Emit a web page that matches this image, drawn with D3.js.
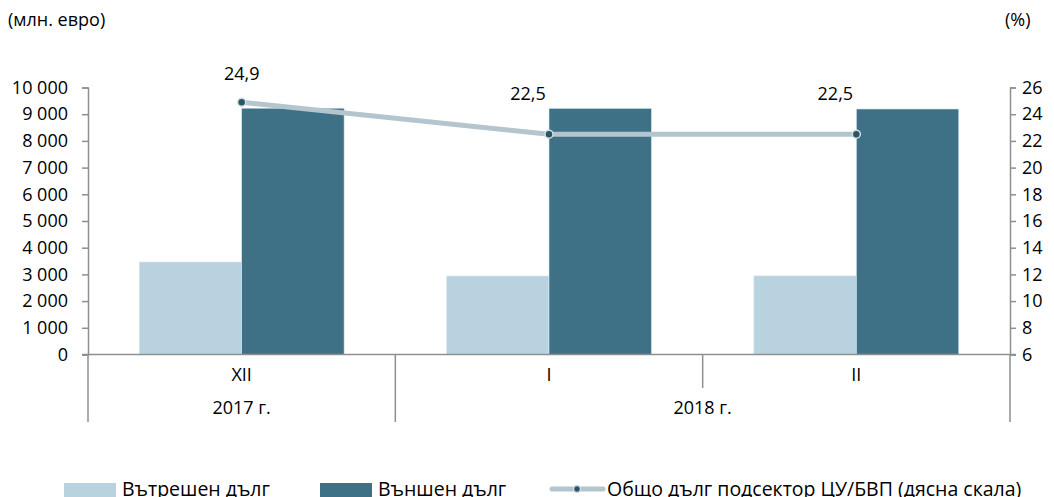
<!DOCTYPE html>
<html>
<head>
<meta charset="utf-8">
<script src="https://cdn.jsdelivr.net/npm/d3@7"></script>
<style>
  body { margin: 0; background: #fff; }
  svg { font-family: "Open Sans", sans-serif; font-size: 18px; }
  text { fill: #000; }
</style>
</head>
<body>
<svg class="chart"></svg>
<script>
var width = 1054,
    height = 497;

// data
var months = ["XII", "I", "II"];
var years = [{ label: "2017 г.", from: 0, to: 1 }, { label: "2018 г.", from: 1, to: 3 }];
var domestic = [3465, 2940, 2945];   // Вътрешен дълг
var external = [9225, 9220, 9195];   // Външен дълг
var ratio = [24.9, 22.5, 22.5];      // % of GDP, right scale
var ratioLabels = ["24,9", "22,5", "22,5"];
var leftTicks = [0, 1000, 2000, 3000, 4000, 5000, 6000, 7000, 8000, 9000, 10000];
var rightTicks = [6, 8, 10, 12, 14, 16, 18, 20, 22, 24, 26];
var seriesNames = ["Вътрешен  дълг", "Външен дълг", "Общо дълг подсектор ЦУ/БВП (дясна скала)"];

var plotLeft = 88, plotRight = 1010, plotTop = 87.5, plotBottom = 354.5;
var axisColor = "#8f8f8f";
var lightBlue = "#b8d3df", darkBlue = "#3e7086", lineColor = "#b4c5cd", dotColor = "#2b5467";

var svg = d3.select(".chart")
    .attr("width", width)
    .attr("height", height);

var x0 = d3.scaleBand().domain(d3.range(months.length)).range([plotLeft, plotRight]);
var x1 = d3.scaleBand().domain([0, 1]).range([0, x0.bandwidth()]).paddingOuter(0.5);
var y = d3.scaleLinear().domain([0, 10000]).range([plotBottom, plotTop]);
var y2 = d3.scaleLinear().domain([6, 26]).range([plotBottom, plotTop]);

var fmt = function(d) { return d3.format(",")(d).replace(/,/g, " "); };

// bars
var groups = svg.append("g").selectAll("g")
    .data(months)
  .enter().append("g")
    .attr("transform", function(d, i) { return "translate(" + x0(i) + ",0)"; });

groups.append("rect")
    .attr("x", x1(0))
    .attr("y", function(d, i) { return y(domestic[i]); })
    .attr("width", x1.bandwidth())
    .attr("height", function(d, i) { return y(0) - y(domestic[i]); })
    .attr("fill", lightBlue)
    .attr("stroke", "#dce9ef").attr("stroke-width", 0.6);

groups.append("rect")
    .attr("x", x1(1))
    .attr("y", function(d, i) { return y(external[i]); })
    .attr("width", x1.bandwidth())
    .attr("height", function(d, i) { return y(0) - y(external[i]); })
    .attr("fill", darkBlue)
    .attr("stroke", "#dce9ef").attr("stroke-width", 0.6);

// left axis
var yAxis = svg.append("g")
    .attr("transform", "translate(" + plotLeft + ",0)")
    .call(d3.axisLeft(y).tickValues(leftTicks).tickFormat(fmt).tickSize(6).tickPadding(14));

// right axis
var y2Axis = svg.append("g")
    .attr("transform", "translate(" + plotRight + ",0)")
    .call(d3.axisRight(y2).tickValues(rightTicks).tickSize(6).tickPadding(6));

[yAxis, y2Axis].forEach(function(a) {
  a.select(".domain").attr("stroke", axisColor).attr("stroke-width", 1.5);
  a.selectAll(".tick line").attr("stroke", axisColor).attr("stroke-width", 1.5);
  a.selectAll("text").attr("font-size", "18px").attr("font-family", "Open Sans").attr("fill", "#000");
});

// category baseline
svg.append("line")
    .attr("x1", plotLeft - 6).attr("x2", plotRight + 6)
    .attr("y1", plotBottom).attr("y2", plotBottom)
    .attr("stroke", axisColor).attr("stroke-width", 1.5);

// outer group lines going down
[plotLeft, plotRight].forEach(function(xv) {
  svg.append("line")
      .attr("x1", xv).attr("x2", xv)
      .attr("y1", plotBottom).attr("y2", 422)
      .attr("stroke", axisColor).attr("stroke-width", 1.5);
});
// separator between years (long) and between months inside a year (short)
d3.range(1, months.length).forEach(function(i) {
  var isYear = years.some(function(yr) { return yr.from === i; });
  svg.append("line").attr("x1", x0(i)).attr("x2", x0(i))
      .attr("y1", plotBottom).attr("y2", isYear ? 422 : 388)
      .attr("stroke", axisColor).attr("stroke-width", 1.5);
});

// month labels
svg.append("g").selectAll("text")
    .data(months)
  .enter().append("text")
    .attr("x", function(d, i) { return x0(i) + x0.bandwidth() / 2; })
    .attr("y", 375)
    .attr("dy", ".35em")
    .attr("text-anchor", "middle")
    .text(function(d) { return d; });

// year labels
svg.append("g").selectAll("text")
    .data(years)
  .enter().append("text")
    .attr("x", function(d) { return (x0(d.from) + x0(d.to - 1) + x0.bandwidth()) / 2; })
    .attr("y", 408)
    .attr("dy", ".35em")
    .attr("text-anchor", "middle")
    .text(function(d) { return d.label; });

// ratio line
var cx = function(i) { return x0(i) + x0.bandwidth() / 2; };
svg.append("path")
    .datum(ratio)
    .attr("d", d3.line().x(function(d, i) { return cx(i); }).y(function(d) { return y2(d); }))
    .attr("fill", "none")
    .attr("stroke", lineColor)
    .attr("stroke-width", 5);

svg.append("g").selectAll("circle")
    .data(ratio)
  .enter().append("circle")
    .attr("cx", function(d, i) { return cx(i); })
    .attr("cy", function(d) { return y2(d); })
    .attr("r", 4)
    .attr("fill", dotColor)
    .attr("stroke", "#d3dee3")
    .attr("stroke-width", 1.5);

// labels sit above the point, or above the bar (nudged left) when the point is inside the bar
var labelPos = function(d, i) {
  var ly = y2(d) - 28;
  var barTop = y(external[i]) - 15;
  return ly > barTop ? { x: cx(i) - 21, y: barTop } : { x: cx(i), y: ly };
};
svg.append("g").selectAll("text")
    .data(ratio)
  .enter().append("text")
    .attr("x", function(d, i) { return labelPos(d, i).x; })
    .attr("y", function(d, i) { return labelPos(d, i).y; })
    .attr("dy", ".35em")
    .attr("text-anchor", "middle")
    .text(function(d, i) { return ratioLabels[i]; });

// units
svg.append("text").attr("x", 8).attr("y", 20).attr("dy", ".35em").text("(млн. евро)");
svg.append("text").attr("x", 1005).attr("y", 20).attr("dy", ".35em").text("(%)");

// legend
var ly = 489;
svg.append("rect").attr("x", 64).attr("y", ly - 6).attr("width", 52).attr("height", 14).attr("fill", lightBlue);
svg.append("text").attr("x", 122).attr("y", ly).attr("dy", ".35em").attr("font-size", "19.5px").text(seriesNames[0]);
svg.append("rect").attr("x", 320).attr("y", ly - 6).attr("width", 52).attr("height", 14).attr("fill", darkBlue);
svg.append("text").attr("x", 378).attr("y", ly).attr("dy", ".35em").attr("font-size", "19.5px").text(seriesNames[1]);
svg.append("line").attr("x1", 552).attr("x2", 603).attr("y1", ly).attr("y2", ly)
    .attr("stroke", lineColor).attr("stroke-width", 5).attr("stroke-linecap", "round");
svg.append("circle").attr("cx", 577).attr("cy", ly).attr("r", 3.5)
    .attr("fill", dotColor).attr("stroke", "#d3dee3").attr("stroke-width", 1.5);
svg.append("text").attr("x", 607).attr("y", ly).attr("dy", ".35em").attr("font-size", "19.5px").text(seriesNames[2]);
</script>
</body>
</html>
